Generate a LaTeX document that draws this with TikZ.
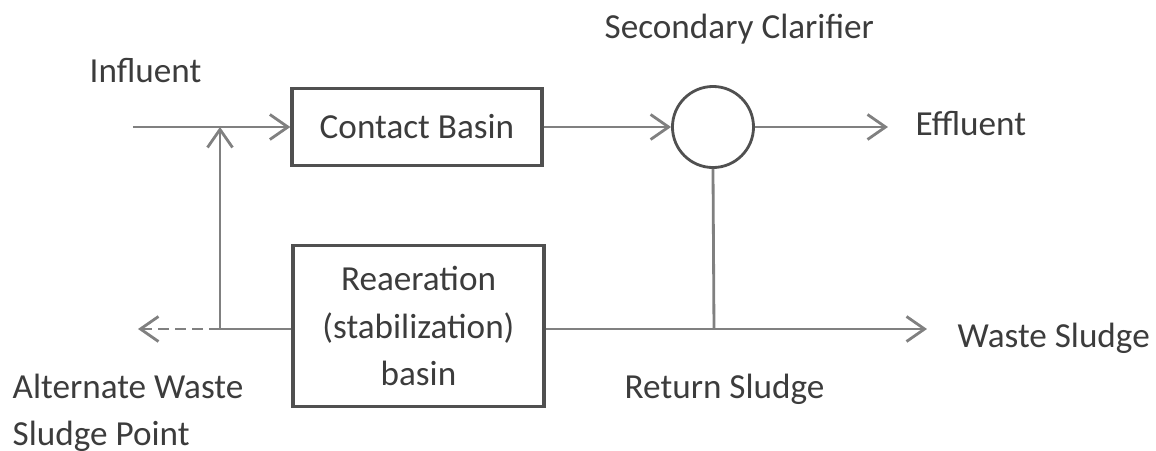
\documentclass[tikz,border=0pt]{standalone}
\usepackage{fontspec}
\setmainfont{Carlito}
\usetikzlibrary{arrows.meta,positioning,calc}
\definecolor{pipe}{RGB}{128,128,128}
\definecolor{wall}{RGB}{80,80,80}
\definecolor{txt}{RGB}{60,60,60}

\begin{document}
\begin{tikzpicture}[x=0.01cm, y=-0.01cm,
  basin/.style={draw=wall, line width=0.9pt, text=txt, align=center,
    font=\fontsize{10}{13.5}\selectfont, inner sep=0pt},
  lbl/.style={font=\fontsize{10}{13.5}\selectfont, text=txt, inner sep=0pt,
    anchor=base west},
  pipeline/.style={draw=pipe, line width=0.8pt},
  tip/.style={-{Straight Barb[length=1.8mm, width=2.5mm]}}]
\useasboundingbox (0,0) rectangle (1156,451);
% units and basins
\node[basin, minimum width=2.5cm, minimum height=0.77cm] (contact) at (417,127)
  {Contact Basin};
\node[basin, minimum width=2.51cm, minimum height=1.61cm] (reaer) at (418.5,326)
  {Reaeration\\(stabilization)\\basin};
\node[draw=wall, line width=0.8pt, circle, minimum size=0.81cm, inner sep=0pt]
  (clarifier) at (713,127) {};
% labels
\node[lbl] (influent) at (89,82) {Influent};
\node[lbl] (sclabel) at (604,38) {Secondary Clarifier};
\node[lbl] (effluent) at (915,135) {Effluent};
\node[lbl] (waste) at (957,347) {Waste Sludge};
\node[lbl] (return) at (624,398) {Return Sludge};
\node[lbl] (alt) at (12,398) {Alternate Waste};
\node[lbl] (altb) at (12,445) {Sludge Point};
% junctions and free ends
\coordinate (inlet) at (133,127);
\coordinate (mix) at (220,127);
\coordinate (split) at (220,329);
\coordinate (rsj) at (714,329);
\coordinate (effend) at (888,127);
\coordinate (wasteend) at (927,329);
\coordinate (altend) at (138,329);
% flows
\draw[pipeline, tip] (inlet) -- (contact.west);
\draw[pipeline, tip] (contact.east) -- (clarifier.west);
\draw[pipeline, tip] (clarifier.east) -- (effend);
\draw[pipeline] (clarifier.south) -- (rsj);
\draw[pipeline, tip] (reaer.east |- rsj) -- (wasteend);
\draw[pipeline] (reaer.west |- split) -- (split);
\draw[pipeline, tip] (split) -- (mix);
\draw[pipeline, tip, dash pattern=on 1.1mm off 0.6mm] (split) -- (altend);
\end{tikzpicture}
\end{document}
